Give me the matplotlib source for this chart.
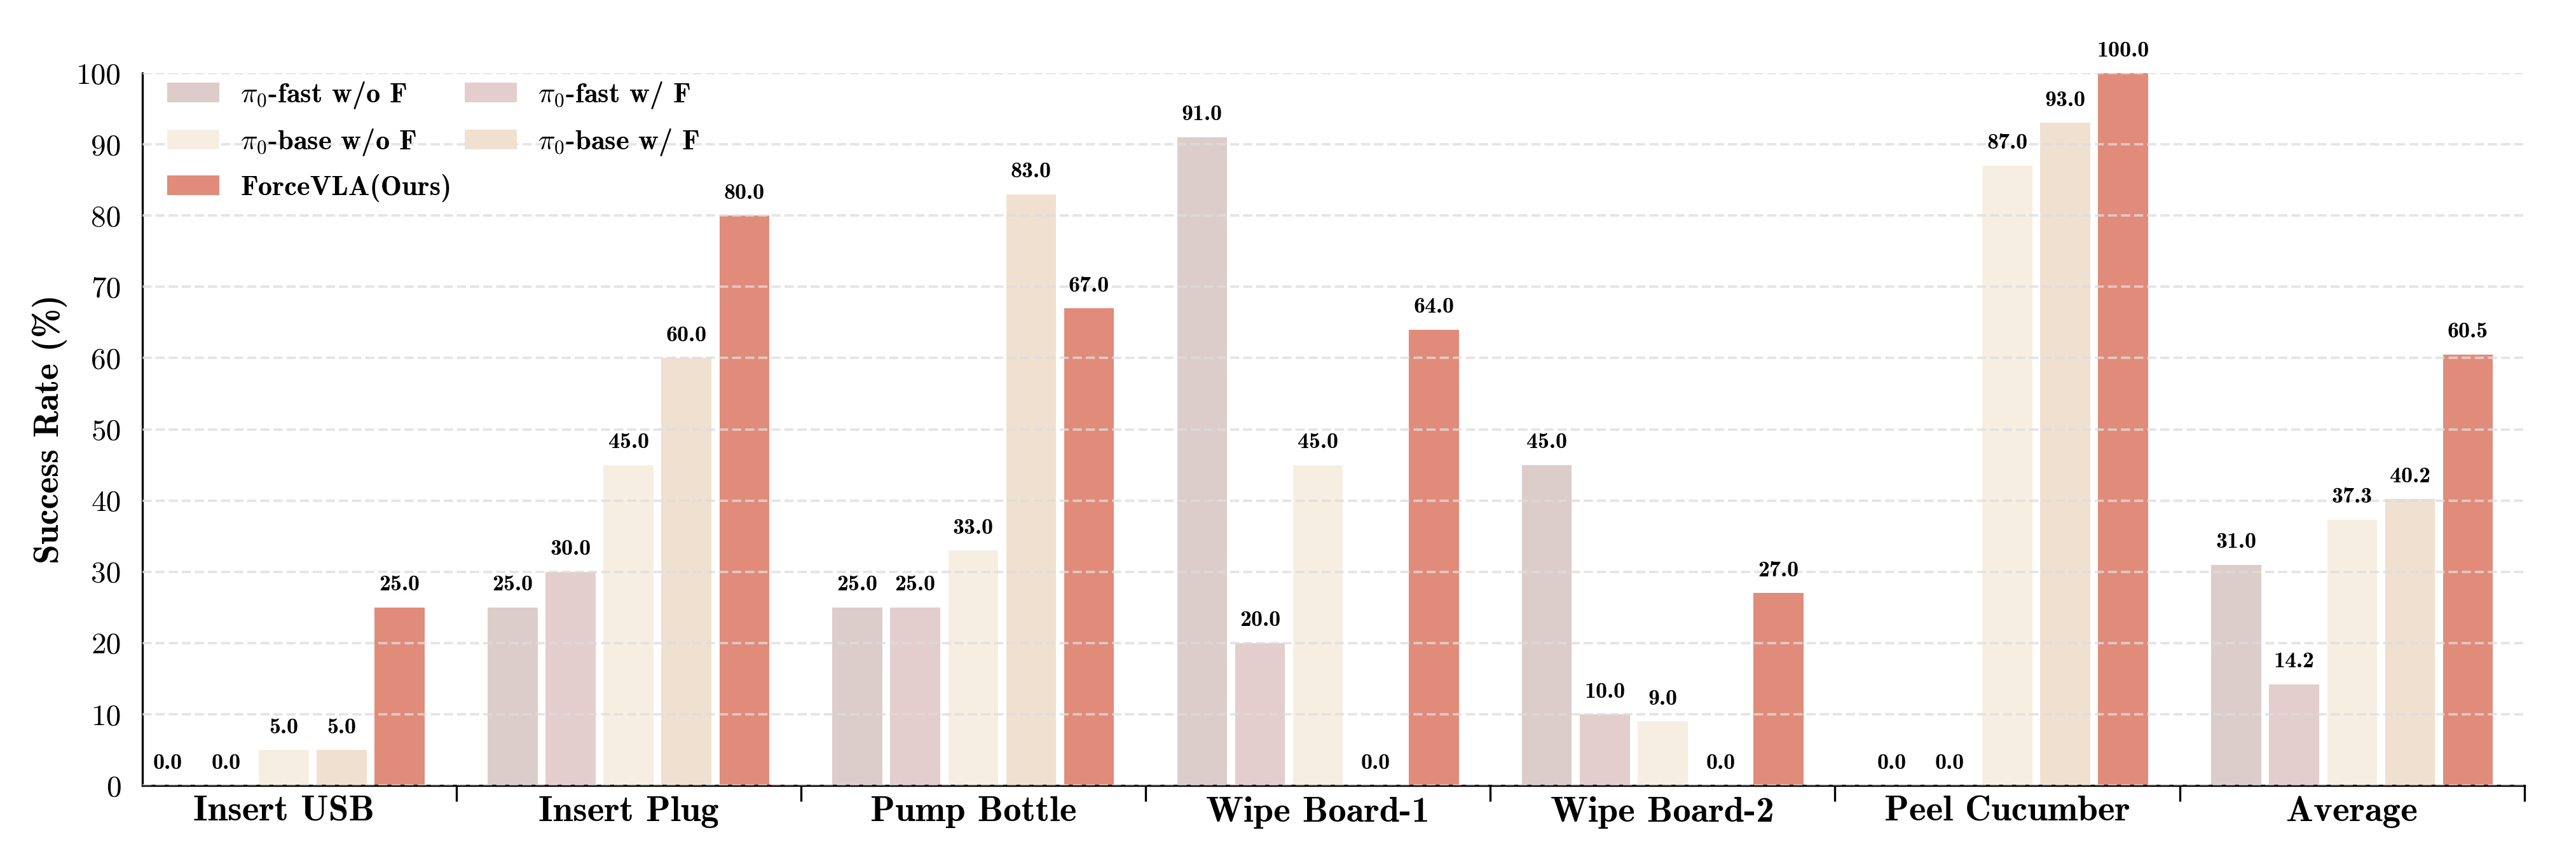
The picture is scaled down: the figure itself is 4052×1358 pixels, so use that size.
import numpy as np
import matplotlib
matplotlib.use("Agg")
import matplotlib.pyplot as plt
from matplotlib.ticker import FixedLocator

plt.rcParams['font.family'] = 'serif'
plt.rcParams['font.serif'] = ['cmr10']
plt.rcParams['mathtext.fontset'] = 'cm'
plt.rcParams['axes.formatter.use_mathtext'] = True

### Données
tasks = ["Insert USB", "Insert Plug", "Pump Bottle", "Wipe Board-1",
         "Wipe Board-2", "Peel Cucumber", "Average"]

fast_wo_f = [0.0, 25.0, 25.0, 91.0, 45.0, 0.0, 31.0]
fast_w_f = [0.0, 30.0, 25.0, 20.0, 10.0, 0.0, 14.2]
base_wo_f = [5.0, 45.0, 33.0, 45.0, 9.0, 87.0, 37.3]
base_w_f = [5.0, 60.0, 83.0, 0.0, 0.0, 93.0, 40.2]
forcevla = [25.0, 80.0, 67.0, 64.0, 27.0, 100.0, 60.5]

series = [fast_wo_f, fast_w_f, base_wo_f, base_w_f, forcevla]
labels = [r"$\pi_0$-fast w/o F", r"$\pi_0$-fast w/ F",
          r"$\pi_0$-base w/o F", r"$\pi_0$-base w/ F", "ForceVLA(Ours)"]
couleurs = ["#dccdca", "#e3cdcd", "#f6efe1", "#f0e0d0", "#e18b7a"]

yticks = np.arange(0, 101, 10)

###################################################################
#######################  AFFICHAGE  ###############################
###################################################################
fig = plt.figure(figsize=(20.26, 6.79), dpi=200)
ax = fig.add_axes([0.0553, 0.0898, 0.9247, 0.8255])

x = np.arange(len(tasks))
largeur = 0.145
pas = 0.168

barres = []
for i, (vals, lab, col) in enumerate(zip(series, labels, couleurs)):
    pos = x + (i - 2) * pas
    b = ax.bar(pos, vals, largeur, color=col, label=lab, zorder=1)
    barres.append(b)
    for xp, v in zip(pos, vals):
        ax.annotate(f"{v:.1f}", (xp, v), xytext=(0, 7), textcoords="offset points",
                    ha="center", va="bottom", fontsize=13, fontfamily="cmb10")

# Axes
ax.set_xlim(-0.41, 6.5)
ax.set_ylim(0, 100)
ax.set_yticks(yticks)
ax.set_yticklabels([str(t) for t in yticks], fontsize=17)
ax.set_xticks(x)
ax.set_xticklabels(tasks, fontsize=20.5, fontfamily="cmb10")
ax.xaxis.set_minor_locator(FixedLocator(x + 0.5))
ax.tick_params(axis="x", which="major", length=0, pad=6)
ax.tick_params(axis="x", which="minor", length=9, width=1.2, color="black")
ax.tick_params(axis="y", length=0, pad=12)

for s in ["top", "right"]:
    ax.spines[s].set_visible(False)
ax.spines["left"].set_linewidth(1.2)
ax.spines["bottom"].set_linewidth(1.2)

# grille par-dessus les barres, comme dans l'original
ax.set_axisbelow(False)
ax.yaxis.grid(True, linestyle="--", color="#dddddd", linewidth=1.4, alpha=0.75)

ax.set_ylabel("Success Rate (%)", fontsize=20, fontfamily="cmb10", labelpad=5)

# Légende : deux colonnes
ordre = [0, 2, 4, 1, 3]
h = [barres[k] for k in ordre]
l = [labels[k] for k in ordre]
ax.legend(h, l, loc="upper left", ncol=2, frameon=False,
          prop={"family": "cmb10", "size": 16},
          handlelength=1.85, handleheight=0.7, handletextpad=0.75,
          labelspacing=0.58, columnspacing=0.45,
          borderaxespad=0.0, bbox_to_anchor=(0.0056, 1.006))

plt.savefig("out.png", dpi=200)
plt.close()
